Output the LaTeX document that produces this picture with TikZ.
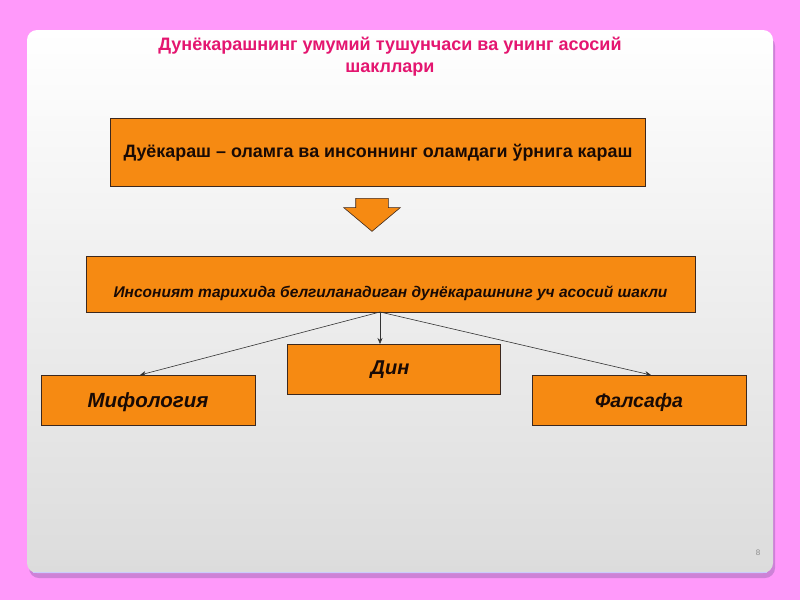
\documentclass[tikz,border=0pt]{standalone}
\usepackage{fontspec}
\setmainfont{Liberation Sans}
\usetikzlibrary{arrows.meta,shapes.arrows}
\definecolor{bgpink}{RGB}{255,153,250}
\definecolor{shadowpink}{RGB}{205,130,215}
\definecolor{titlecol}{RGB}{228,22,112}
\definecolor{boxfill}{RGB}{246,138,18}
\definecolor{boxline}{RGB}{60,40,30}
\definecolor{boxtext}{RGB}{25,10,5}
\definecolor{panellow}{RGB}{220,220,220}
\tikzset{
  obox/.style={draw=boxline, line width=0.8pt, fill=boxfill, inner sep=0pt},
  otext/.style={text=boxtext, font=\bfseries, inner sep=0pt},
  conn/.style={draw=black!80, line width=0.6pt, -{Stealth[length=6pt,width=5pt]}}
}
\begin{document}
\begin{tikzpicture}[x=1pt,y=-1pt]
\useasboundingbox (0,0) rectangle (800,600);
\fill[bgpink] (0,0) rectangle (800,600);
% panel shadow and panel
\fill[shadowpink, rounded corners=10pt] (29,36) rectangle (775,578);
\shade[top color=white, bottom color=panellow, rounded corners=10pt] (27,30) rectangle (773,573);
\draw[color=white!80!blue, line width=0.8pt] (33,572.5) -- (767,572.5);
% title
\node[text=titlecol, font=\bfseries\fontsize{18}{22}\selectfont, align=center, inner sep=0pt] (title) at (390,57)
  {Дунёкарашнинг умумий тушунчаси ва унинг асосий\\шакллари};
% boxes
\node[obox, minimum width=535pt, minimum height=68pt] (b1) at (377.5,152) {};
\node[otext, font=\bfseries\fontsize{17.9}{21}\selectfont] (t1) at (378,153) {Дуёкараш – оламга ва инсоннинг оламдаги ўрнига караш};
\node[single arrow, draw=boxline, line width=0.6pt, fill=boxfill, shape border rotate=270,
  minimum width=56pt, single arrow head extend=12pt, single arrow tip angle=100, minimum height=33pt, inner sep=0pt,
  text width=32pt] (arr) at (372,208) {};
\node[obox, minimum width=609pt, minimum height=56pt] (b2) at (390.5,284) {};
\node[otext, font=\bfseries\itshape\fontsize{15.5}{18}\selectfont] (t2) at (390.5,293) {Инсоният тарихида белгиланадиган дунёкарашнинг уч асосий шакли};
\node[obox, minimum width=213pt, minimum height=50pt] (din) at (393.5,369) {};
\node[otext, font=\bfseries\itshape\fontsize{20}{24}\selectfont] at (390,370) {Дин};
\node[obox, minimum width=214pt, minimum height=50pt] (mif) at (148,400) {};
\node[otext, font=\bfseries\itshape\fontsize{20.5}{24}\selectfont] at (148,402) {Мифология};
\node[obox, minimum width=214pt, minimum height=50pt] (fal) at (639,400) {};
\node[otext, font=\bfseries\itshape\fontsize{19.5}{24}\selectfont] at (639,402) {Фалсафа};
% connectors
\coordinate (src) at (380,312);
\coordinate (mifend) at (140,375);
\coordinate (falend) at (651,375);
\coordinate (dinend) at (380,344);
\draw[conn] (src) -- (mifend);
\draw[conn] (src) -- (dinend);
\draw[conn] (src) -- (falend);
% slide number
\node[text=black!45, font=\fontsize{8}{9}\selectfont, inner sep=0pt] (num) at (758,553) {8};
\end{tikzpicture}
\end{document}
